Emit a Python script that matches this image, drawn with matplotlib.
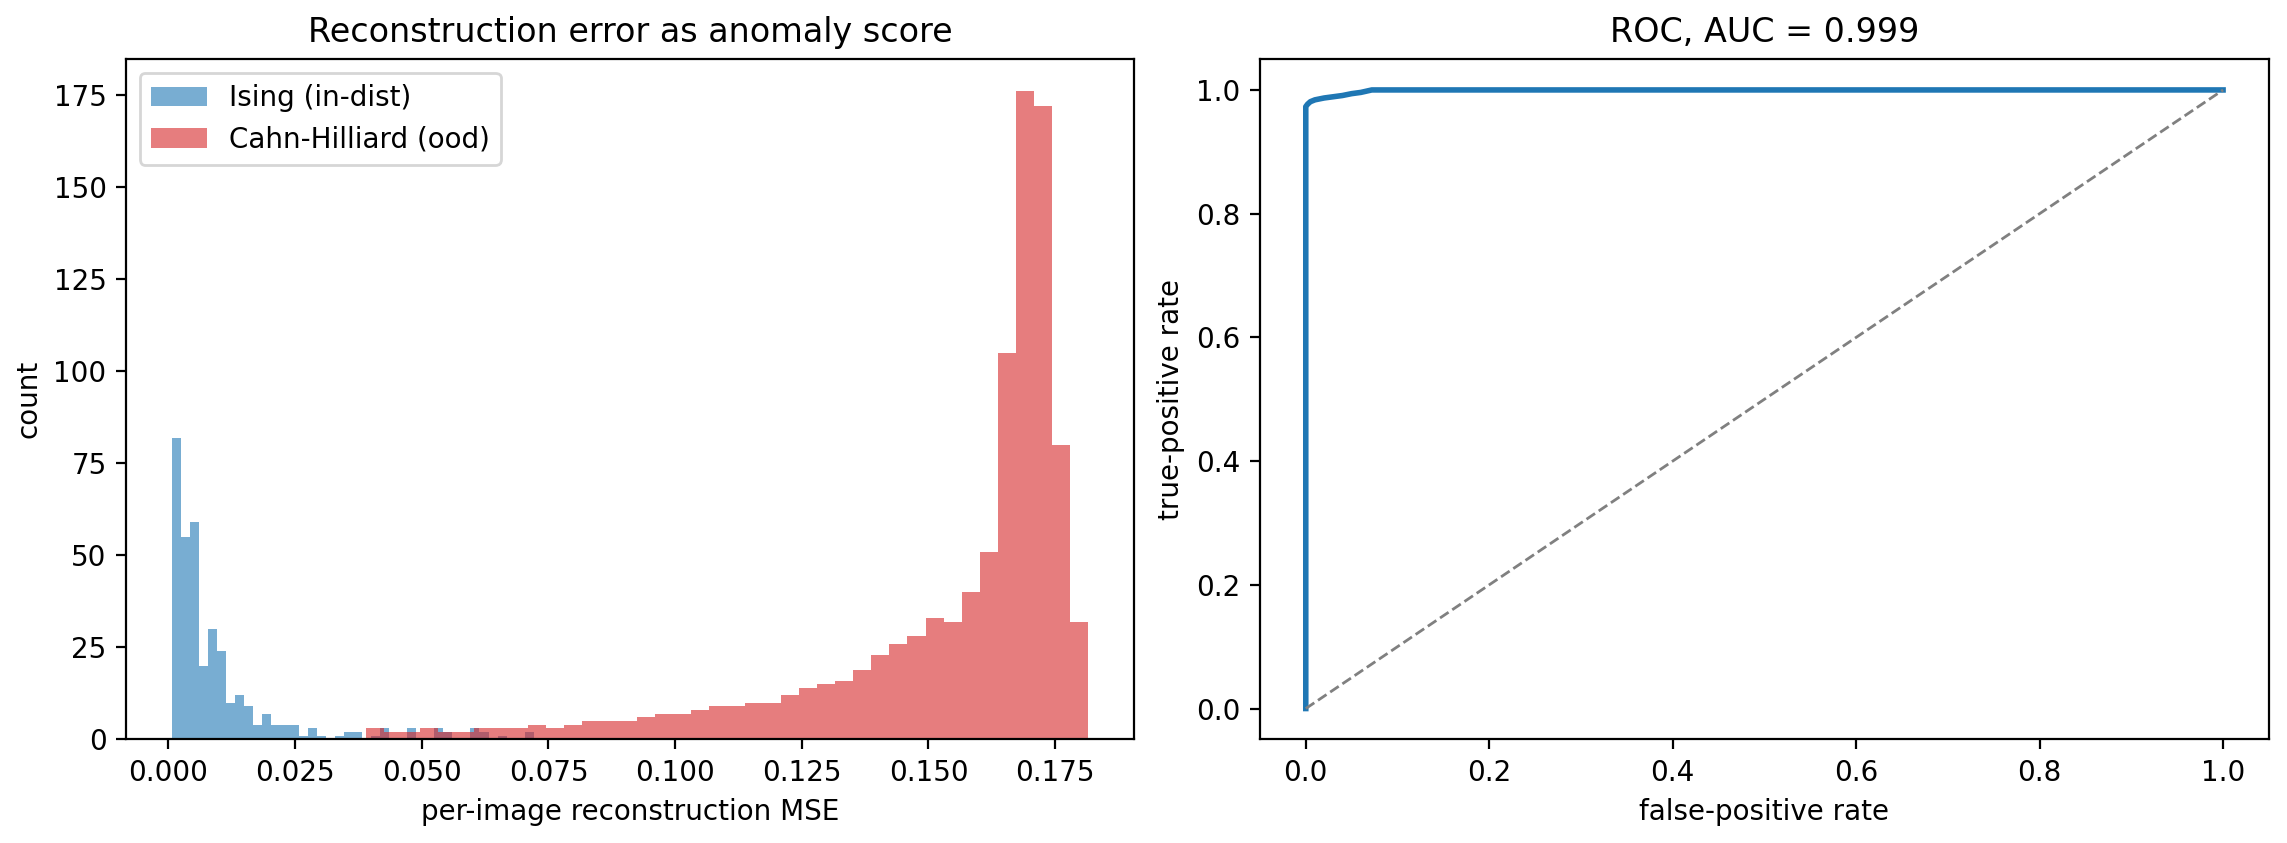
import numpy as np
import matplotlib
matplotlib.use("Agg")
import matplotlib.pyplot as plt

# ---- data ----
ising_lo, ising_hi = 0.00066, 0.0721
ising_counts = [82, 55, 59, 20, 30, 24, 10, 12, 9, 4,
                7, 4, 4, 4, 1, 3, 1, 0, 1, 2,
                2, 0, 1, 3, 0, 0, 3, 0, 0, 3,
                2, 0, 0, 3, 2, 0, 1, 0, 0, 2]
ch_lo, ch_hi = 0.0389, 0.1815
ch_counts = [3, 2, 2, 3, 2, 2, 3, 3, 3, 4,
             3, 4, 5, 5, 5, 6, 7, 7, 8, 9,
             9, 10, 10, 12, 14, 15, 16, 19, 23, 26,
             28, 33, 32, 40, 51, 105, 176, 172, 80, 32]

roc_fpr = [0.0, 0.0, 0.002, 0.005, 0.010, 0.020, 0.030, 0.040, 0.050, 0.060, 0.072, 1.0]
roc_tpr = [0.0, 0.973, 0.977, 0.981, 0.984, 0.987, 0.989, 0.991, 0.994, 0.996, 1.0, 1.0]
auc = 0.999

ising_edges = np.linspace(ising_lo, ising_hi, len(ising_counts) + 1)
ch_edges = np.linspace(ch_lo, ch_hi, len(ch_counts) + 1)
ising_centers = 0.5 * (ising_edges[:-1] + ising_edges[1:])
ch_centers = 0.5 * (ch_edges[:-1] + ch_edges[1:])

fig = plt.figure(figsize=(11.435, 4.215), dpi=200)
ax1 = fig.add_axes([0.0551, 0.1228, 0.4407, 0.8072])
ax2 = fig.add_axes([0.5509, 0.1228, 0.4412, 0.8072])

ax1.hist(ising_centers, bins=ising_edges, weights=ising_counts, alpha=0.6,
         color='tab:blue', label='Ising (in-dist)')
ax1.hist(ch_centers, bins=ch_edges, weights=ch_counts, alpha=0.6,
         color='tab:red', label='Cahn-Hilliard (ood)')
ax1.set_xlabel('per-image reconstruction MSE')
ax1.set_ylabel('count')
ax1.set_title('Reconstruction error as anomaly score')
ax1.legend(loc='upper left')

ax2.plot(roc_fpr, roc_tpr, color='tab:blue', lw=2)
ax2.plot([0, 1], [0, 1], '--', color='gray', lw=1)
ax2.set_xlabel('false-positive rate')
ax2.set_ylabel('true-positive rate')
ax2.set_title(f'ROC, AUC = {auc:.3f}')

fig.savefig('out.png', dpi=200)
